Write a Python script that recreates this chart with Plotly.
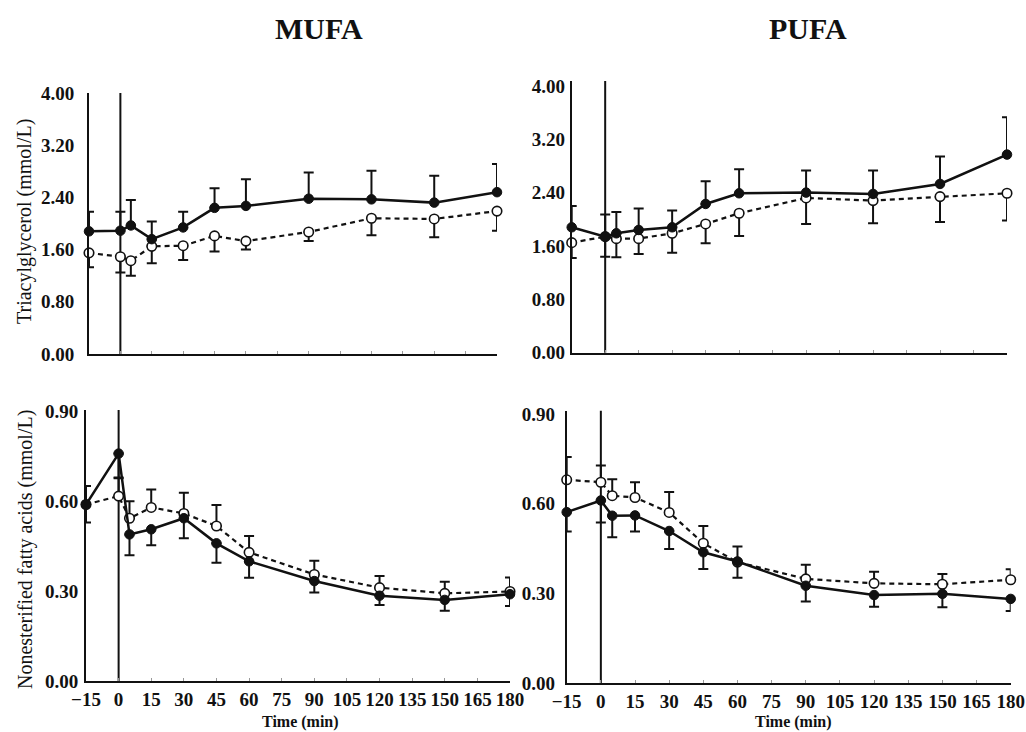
import plotly.graph_objects as go

# ---------------- data ----------------
time_min = [-15, 0, 5, 15, 30, 45, 60, 90, 120, 150, 180]
x_ticks = [-15, 0, 15, 30, 45, 60, 75, 90, 105, 120, 135, 150, 165, 180]

# Triacylglycerol (mmol/L)
mufa_tg_solid = [1.88, 1.89, 1.97, 1.76, 1.94, 2.24, 2.27, 2.38, 2.37, 2.32, 2.48]
mufa_tg_solid_err = [0.30, 0.29, 0.39, 0.27, 0.24, 0.30, 0.41, 0.40, 0.44, 0.41, 0.43]
mufa_tg_open = [1.55, 1.49, 1.43, 1.65, 1.66, 1.81, 1.73, 1.87, 2.08, 2.07, 2.19]
mufa_tg_open_err = [0.22, 0.24, 0.23, 0.26, 0.22, 0.24, 0.13, 0.14, 0.26, 0.28, 0.30]

pufa_tg_solid = [1.88, 1.74, 1.79, 1.84, 1.88, 2.23, 2.39, 2.40, 2.38, 2.53, 2.97]
pufa_tg_solid_err = [0.32, 0.33, 0.32, 0.32, 0.25, 0.34, 0.36, 0.33, 0.35, 0.41, 0.56]
pufa_tg_open = [1.65, 1.74, 1.71, 1.71, 1.79, 1.93, 2.09, 2.32, 2.28, 2.34, 2.39]
pufa_tg_open_err = [0.23, 0.30, 0.28, 0.23, 0.29, 0.29, 0.34, 0.39, 0.34, 0.38, 0.41]

# Nonesterified fatty acids (mmol/L)
mufa_nefa_solid = [0.59, 0.76, 0.49, 0.507, 0.544, 0.46, 0.40, 0.334, 0.285, 0.271, 0.29]
mufa_nefa_solid_err = [0.06, 0.08, 0.07, 0.053, 0.067, 0.065, 0.055, 0.038, 0.031, 0.036, 0.039]
mufa_nefa_open = [0.59, 0.618, 0.544, 0.58, 0.56, 0.518, 0.43, 0.356, 0.312, 0.293, 0.299]
mufa_nefa_open_err = [0.062, 0.06, 0.057, 0.06, 0.069, 0.07, 0.055, 0.046, 0.039, 0.039, 0.047]

pufa_nefa_solid = [0.572, 0.611, 0.560, 0.561, 0.509, 0.438, 0.407, 0.326, 0.295, 0.299, 0.282]
pufa_nefa_solid_err = [0.065, 0.074, 0.072, 0.054, 0.060, 0.056, 0.054, 0.053, 0.039, 0.045, 0.040]
pufa_nefa_open = [0.680, 0.672, 0.627, 0.621, 0.571, 0.468, 0.405, 0.349, 0.334, 0.331, 0.346]
pufa_nefa_open_err = [0.076, 0.056, 0.055, 0.051, 0.068, 0.058, 0.052, 0.047, 0.039, 0.034, 0.035]

tg_ticks = [0.0, 0.8, 1.6, 2.4, 3.2, 4.0]
nefa_ticks = [0.0, 0.3, 0.6, 0.9]

# ---------------- styling ----------------
INK = "#111111"
SERIF = "Liberation Serif, Times New Roman, serif"
W, H = 1026, 732

def px_x(p):
    return p / W

def px_y(p):
    return (H - p) / H

fig = go.Figure()

panels = [
    ("x", "y", mufa_tg_solid, mufa_tg_solid_err, mufa_tg_open, mufa_tg_open_err, True),
    ("x2", "y2", pufa_tg_solid, pufa_tg_solid_err, pufa_tg_open, pufa_tg_open_err, True),
    ("x3", "y3", mufa_nefa_solid, mufa_nefa_solid_err, mufa_nefa_open, mufa_nefa_open_err, False),
    ("x4", "y4", pufa_nefa_solid, pufa_nefa_solid_err, pufa_nefa_open, pufa_nefa_open_err, False),
]

zeros = [0] * len(time_min)
for xa, ya, s, se, o, oe, solid_up in panels:
    if solid_up:
        s_err = dict(type="data", symmetric=False, array=se, arrayminus=zeros)
        o_err = dict(type="data", symmetric=False, array=zeros, arrayminus=oe)
    else:
        s_err = dict(type="data", symmetric=False, array=zeros, arrayminus=se)
        o_err = dict(type="data", symmetric=False, array=oe, arrayminus=zeros)
    for e in (s_err, o_err):
        e.update(color=INK, thickness=2, width=5)
    fig.add_trace(go.Scatter(
        x=time_min, y=o, xaxis=xa, yaxis=ya, mode="lines+markers",
        line=dict(color=INK, width=2.2, dash="5px,4px"),
        marker=dict(size=9.5, color="white", line=dict(color=INK, width=1.6)),
        error_y=o_err, cliponaxis=False, showlegend=False,
    ))
    fig.add_trace(go.Scatter(
        x=time_min, y=s, xaxis=xa, yaxis=ya, mode="lines+markers",
        line=dict(color=INK, width=2.5),
        marker=dict(size=9.5, color=INK, line=dict(color=INK, width=1)),
        error_y=s_err, cliponaxis=False, showlegend=False,
    ))

def xaxis(domain, anchor, labels):
    return dict(
        domain=domain, anchor=anchor, range=[-15, 180], automargin=False,
        tickmode="array", tickvals=x_ticks,
        showticklabels=labels,
        tickfont=dict(family=SERIF, size=19, color=INK, weight="bold"),
        ticks="inside", ticklen=3, tickwidth=1, tickcolor="#999999",
        showline=True, linecolor=INK, linewidth=2,
        showgrid=False, zeroline=False, fixedrange=True,
    )

def yaxis(domain, anchor, rng, ticks, standoff):
    return dict(
        domain=domain, anchor=anchor, range=rng, automargin=False,
        tickmode="array", tickvals=ticks,
        ticktext=[f"{t:.2f}" for t in ticks],
        tickfont=dict(family=SERIF, size=19, color=INK, weight="bold"),
        ticks="", ticklabelstandoff=standoff,
        showline=True, linecolor=INK, linewidth=2,
        showgrid=False, zeroline=False, fixedrange=True,
    )

layout = dict(
    template="none",
    width=W, height=H, autosize=False,
    margin=dict(l=0, r=0, t=0, b=0, pad=0),
    paper_bgcolor="white", plot_bgcolor="white",
    showlegend=False,
    xaxis=xaxis([px_x(89), px_x(497)], "y", False),
    yaxis=yaxis([px_y(354), px_y(93)], "x", [0, 4.0], tg_ticks, 9),
    xaxis2=xaxis([px_x(571.7), px_x(1007)], "y2", False),
    yaxis2=yaxis([px_y(352.7), px_y(81)], "x2", [0, 4.073], tg_ticks, 1),
    xaxis3=xaxis([px_x(86), px_x(510)], "y3", True),
    yaxis3=yaxis([px_y(681), px_y(410)], "x3", [0, 0.9057], nefa_ticks, 2),
    xaxis4=xaxis([px_x(566.7), px_x(1010.7)], "y4", True),
    yaxis4=yaxis([px_y(683.3), px_y(410.7)], "x4", [0, 0.911], nefa_ticks, 6),
)
fig.update_layout(**layout)

for xa, ya in [("x", "y"), ("x2", "y2"), ("x3", "y3"), ("x4", "y4")]:
    fig.add_shape(type="line", xref=xa, yref=f"{ya} domain",
                  x0=0, x1=0, y0=0, y1=1, layer="below",
                  line=dict(color=INK, width=2))

annotations = [
    dict(text="<b>MUFA</b>", x=px_x(319), y=px_y(28), font=dict(family=SERIF, size=30, color=INK)),
    dict(text="<b>PUFA</b>", x=px_x(808), y=px_y(28), font=dict(family=SERIF, size=30, color=INK)),
    dict(text="Triacylglycerol (mmol/L)", x=px_x(24), y=px_y(222), textangle=-90,
         font=dict(family=SERIF, size=20, color=INK)),
    dict(text="Nonesterified fatty acids (mmol/L)", x=px_x(25), y=px_y(550), textangle=-90,
         font=dict(family=SERIF, size=20, color=INK)),
    dict(text="<b>Time (min)</b>", x=px_x(300), y=px_y(722), font=dict(family=SERIF, size=16, color=INK)),
    dict(text="<b>Time (min)</b>", x=px_x(793), y=px_y(722), font=dict(family=SERIF, size=16, color=INK)),
]
for a in annotations:
    a.update(xref="paper", yref="paper", showarrow=False, xanchor="center", yanchor="middle")
fig.update_layout(annotations=annotations)

fig.write_html(
    "out.html",
    config={"displayModeBar": False, "staticPlot": True},
    post_script="document.body.style.margin='0';document.body.style.overflow='hidden';",
)
